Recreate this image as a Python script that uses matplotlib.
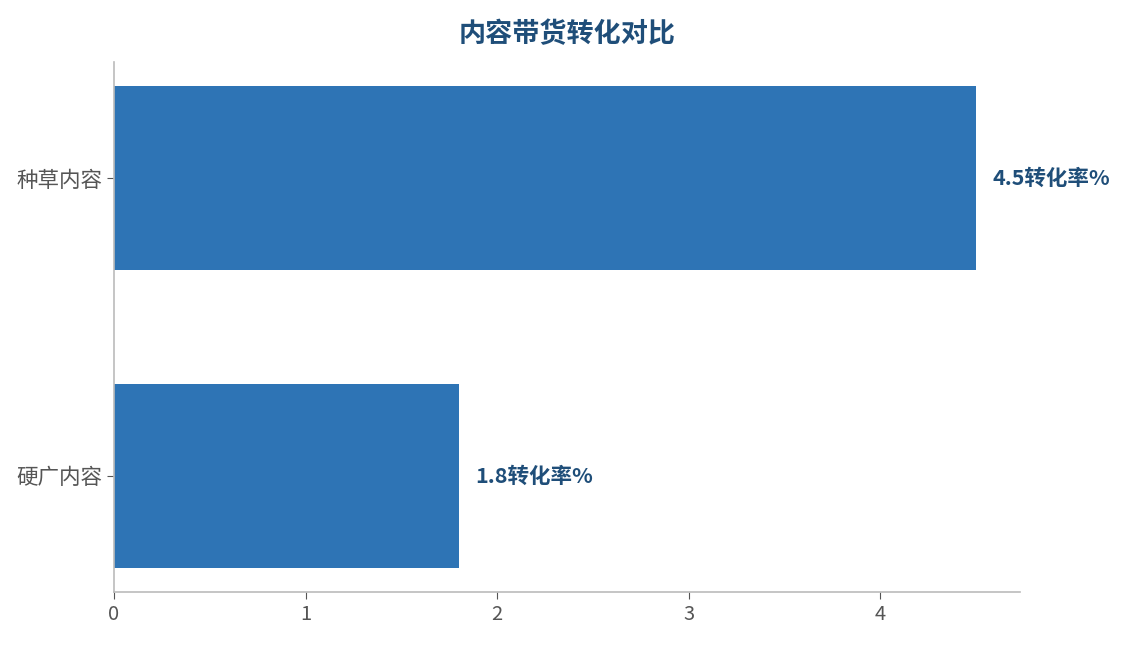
import matplotlib.pyplot as plt

plt.rcParams['font.family'] = ['Noto Sans CJK SC', 'DejaVu Sans']

categories = ['硬广内容', '种草内容']
rates = [1.8, 4.5]

fig = plt.figure(figsize=(11.24, 6.45), dpi=100)
ax = fig.add_axes([0.1014, 0.0822, 0.8061, 0.8217])

ax.barh(categories, rates, height=0.62, color='#2E74B5')

for i, v in enumerate(rates):
    ax.annotate(f"{v}转化率%", xy=(v, i), xytext=(12, 0), textcoords='offset points',
                va='center', ha='left', fontsize=15.5, fontweight='bold', color='#1F4E79')

ax.set_xlim(0, 4.73)
ax.set_ylim(-0.39, 1.39)
ax.set_xticks([0, 1, 2, 3, 4])

for s in ['top', 'right']:
    ax.spines[s].set_visible(False)
for s in ['left', 'bottom']:
    ax.spines[s].set_color('#BBBBBB')
    ax.spines[s].set_linewidth(1.2)

ax.tick_params(axis='y', labelsize=15.5, colors='#555555', length=5)
ax.tick_params(axis='x', labelsize=14.5, colors='#555555', length=5)

ax.set_title('内容带货转化对比', fontsize=19.5, fontweight='bold', color='#1F4E79', pad=14)

fig.savefig('out.png', dpi=100)
